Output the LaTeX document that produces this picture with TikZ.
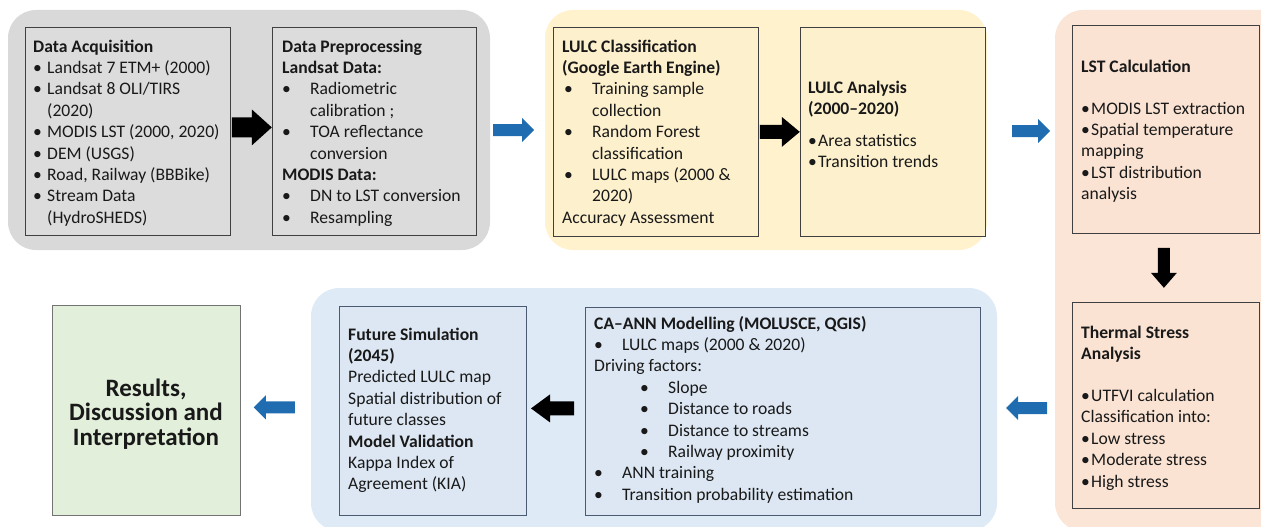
\documentclass[tikz,border=0pt]{standalone}
\usepackage{fontspec}
\setmainfont{Carlito}
\usetikzlibrary{calc}
\definecolor{pgray}{HTML}{D9D9D9}
\definecolor{bgray}{HTML}{DCDCDC}
\definecolor{pyel}{HTML}{FFF2CC}
\definecolor{byel}{HTML}{FDF0CD}
\definecolor{pora}{HTML}{FBE5D6}
\definecolor{bora}{HTML}{FAE3D3}
\definecolor{pblu}{HTML}{DEEBF7}
\definecolor{bblu}{HTML}{DCE7F3}
\definecolor{bgrn}{HTML}{E2EFDA}
\definecolor{edge}{HTML}{404040}
\definecolor{edgeb}{HTML}{4A5A70}
\definecolor{arrblue}{HTML}{1F6CB0}
% horizontal block arrow: style, tail, length, body half, head half, head length
\newcommand{\harr}[6]{\fill[#1] (#2) ++(0,#4) -- ++({#3-(#6)},0) -- ++(0,{#5-#4}) -- ++(#6,{-#5}) -- ++({-(#6)},{-#5}) -- ++(0,{#5-#4}) -- ++({-(#3)+(#6)},0) -- cycle;}
% vertical (down) block arrow
\newcommand{\varr}[6]{\fill[#1] (#2) ++(#4,0) -- ++(0,{#3-(#6)}) -- ++({#5-#4},0) -- ++({-#5},#6) -- ++({-#5},{-(#6)}) -- ++({#5-#4},0) -- ++(0,{-(#3)+(#6)}) -- cycle;}
\newcommand{\bl}[1]{\makebox[#1][l]{•}}
\begin{document}
\begin{tikzpicture}[x=1pt,y=-1pt,
  panel/.style={rounded corners=28pt},
  box/.style={draw=edge, line width=0.8pt, anchor=north west, inner sep=0pt},
  txt/.style={inner sep=0pt, anchor=base west, align=left, font=\fontsize{17.6}{21.4}\selectfont, text=black!90}]
\useasboundingbox (0,0) rectangle (1261,527);
\clip (0,0) rectangle (1261,527);
% panels
\fill[pgray, panel] (8,10) rectangle (490,250);
\fill[pyel, panel] (545,10) rectangle (987,250);
\fill[pora, panel] (1055,10) rectangle (1290,531);
\fill[pblu, panel] (311,288) rectangle (997,531);
% boxes
\node[box, fill=bgray, minimum width=205pt, minimum height=208pt] (acq) at (25,27) {};
\node[box, fill=bgray, minimum width=204pt, minimum height=208pt] (prep) at (272,27) {};
\node[box, fill=byel, minimum width=205pt, minimum height=209pt] (cls) at (553,27) {};
\node[box, fill=byel, minimum width=185pt, minimum height=209pt] (ana) at (800,27) {};
\node[box, fill=bora, minimum width=187pt, minimum height=208pt] (lst) at (1072,25) {};
\node[box, fill=bora, minimum width=187pt, minimum height=206pt] (tsa) at (1072,302) {};
\node[box, draw=edgeb, fill=bblu, minimum width=395pt, minimum height=208pt] (ca) at (585,307) {};
\node[box, draw=edgeb, fill=bblu, minimum width=187pt, minimum height=209pt] (fut) at (339,306) {};
\node[box, draw=black!55, fill=bgrn, minimum width=188pt, minimum height=210pt] (res) at (52,305) {};
% texts (anchored at the baseline of their last line)
\node[txt] (acqT) at (33,223.2) {\textbf{Data Acquisition}\\
\bl{14pt}Landsat 7 ETM+ (2000)\\
\bl{14pt}Landsat 8 OLI/TIRS\\
\hspace*{14pt}(2020)\\
\bl{14pt}MODIS LST (2000, 2020)\\
\bl{14pt}DEM (USGS)\\
\bl{14pt}Road, Railway (BBBike)\\
\bl{14pt}Stream Data\\
\hspace*{14pt}(HydroSHEDS)};
\node[txt] (prepT) at (282,223.2) {\textbf{Data Preprocessing}\\
\textbf{Landsat Data:}\\
\bl{28pt}Radiometric\\
\hspace*{28pt}calibration ;\\
\bl{28pt}TOA reflectance\\
\hspace*{28pt}conversion\\
\textbf{MODIS Data:}\\
\bl{28pt}DN to LST conversion\\
\bl{28pt}Resampling};
\node[txt] (clsT) at (562,223.2) {\textbf{LULC Classification}\\
\textbf{(Google Earth Engine)}\\
\hspace*{2pt}\bl{28pt}Training sample\\
\hspace*{30pt}collection\\
\hspace*{2pt}\bl{28pt}Random Forest\\
\hspace*{30pt}classification\\
\hspace*{2pt}\bl{28pt}LULC maps (2000 \&\\
\hspace*{30pt}2020)\\
Accuracy Assessment};
\node[txt] (anaT) at (808,167.8) {\textbf{LULC Analysis}\\
\textbf{(2000–2020)}\\[10.6pt]
\bl{10pt}Area statistics\\
\bl{10pt}Transition trends};
\node[txt] (lstT) at (1081,199.6) {\textbf{LST Calculation}\\[20.6pt]
\bl{10pt}MODIS LST extraction\\
\bl{10pt}Spatial temperature\\
mapping\\
\bl{10pt}LST distribution\\
analysis};
\node[txt] (tsaT) at (1081,487) {\textbf{Thermal Stress}\\
\textbf{Analysis}\\[20.6pt]
\bl{10pt}UTFVI calculation\\
Classification into:\\
\bl{10pt}Low stress\\
\bl{10pt}Moderate stress\\
\bl{10pt}High stress};
\node[txt] (caT) at (594,500.2) {\textbf{CA–ANN Modelling (MOLUSCE, QGIS)}\\
\bl{28pt}LULC maps (2000 \& 2020)\\
Driving factors:\\
\hspace*{46pt}\bl{28pt}Slope\\
\hspace*{46pt}\bl{28pt}Distance to roads\\
\hspace*{46pt}\bl{28pt}Distance to streams\\
\hspace*{46pt}\bl{28pt}Railway proximity\\
\bl{28pt}ANN training\\
\bl{28pt}Transition probability estimation};
\node[txt] (futT) at (348,489.8) {\textbf{Future Simulation}\\
\textbf{(2045)}\\
Predicted LULC map\\
Spatial distribution of\\
future classes\\
\textbf{Model Validation}\\
Kappa Index of\\
Agreement (KIA)};
\node[inner sep=0pt, anchor=base, align=center, font=\bfseries\fontsize{25}{24.5}\selectfont, text=black!90] (resT) at (146,445) {Results,\\Discussion and\\Interpretation};
% arrows
\coordinate (a1) at ($(acq.east)+(1,-4)$);
\coordinate (a2) at (493,130);
\coordinate (a3) at ($(cls.east)+(1,0)$);
\coordinate (a4) at (1012,131);
\coordinate (a5) at ($(lst.south)+(-2,14)$);
\coordinate (a6) at (1047,408);
\coordinate (a7) at ($(ca.west)+(-11,-3)$);
\coordinate (a8) at ($(res.east)+(54,-3)$);
\harr{black}{a1}{40}{10}{18}{20}
\harr{arrblue}{a2}{41}{6}{12}{12}
\harr{black}{a3}{40}{7}{15}{18}
\harr{arrblue}{a4}{38}{6}{12}{12}
\varr{black}{a5}{40}{6}{13}{15}
\harr{arrblue}{a6}{-41}{6}{12}{-12}
\harr{black}{a7}{-43}{7}{14}{-19}
\harr{arrblue}{a8}{-41}{6}{12}{-12}
\end{tikzpicture}
\end{document}
